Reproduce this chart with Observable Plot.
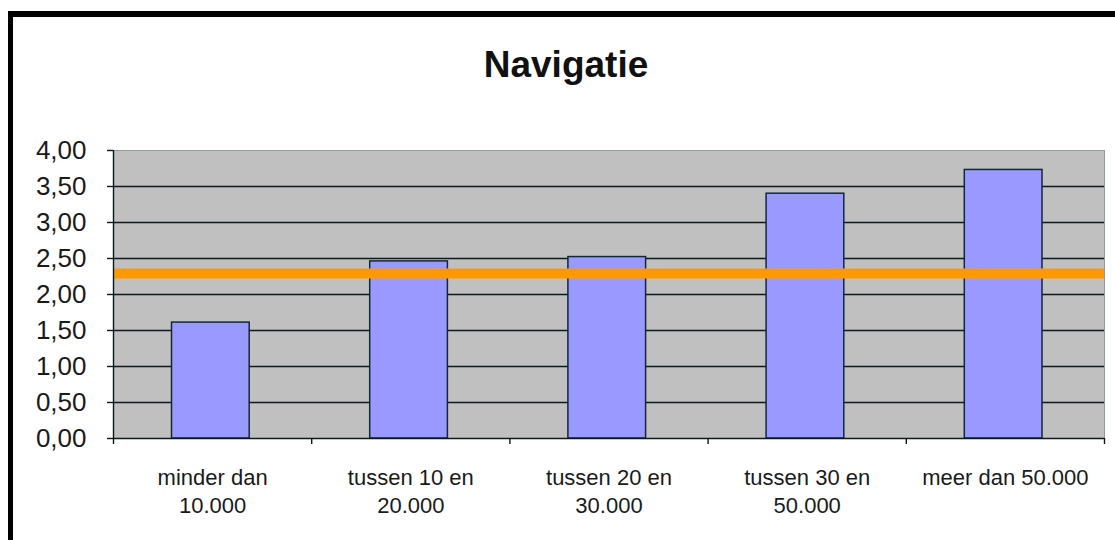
<!DOCTYPE html>
<html><head><meta charset="utf-8">
<script src="https://cdn.jsdelivr.net/npm/d3@7"></script>
<script src="https://cdn.jsdelivr.net/npm/@observablehq/plot@0.6"></script>
<style>
html,body{margin:0;padding:0;background:#fff;overflow:hidden;width:1115px;height:540px}
#wrap{position:relative;width:1115px;height:540px;overflow:hidden;font-family:"Liberation Sans",Arial,sans-serif}
#frame{position:absolute;left:8px;top:11px;width:2000px;height:2000px;border-left:5px solid #000;border-top:6px solid #000}
#title{position:absolute;top:46px;left:0;width:1132px;text-align:center;font-weight:bold;font-size:37px;line-height:37px;color:#111}
#chart{position:absolute;left:0;top:0}
</style></head>
<body><div id="wrap"><div id="frame"></div><div id="title"></div><div id="chart"></div></div>
<script>
const title = "Navigatie";
const categories = ["minder dan\n10.000", "tussen 10 en\n20.000", "tussen 20 en\n30.000", "tussen 30 en\n50.000", "meer dan 50.000"];
const values = [1.61, 2.46, 2.52, 3.40, 3.73];
const average = 2.29;
const yTicks = [0, 0.5, 1, 1.5, 2, 2.5, 3, 3.5, 4];

document.getElementById("title").textContent = title;

const data = categories.map((c, i) => ({category: c, index: i, value: values[i]}));
const boundaries = d3.range(0, categories.length + 1);

const plot = Plot.plot({
  width: 1115, height: 540,
  marginLeft: 113, marginRight: 11, marginTop: 150, marginBottom: 102,
  x: {type: "linear", domain: [0, categories.length], axis: null},
  y: {domain: [0, 4], axis: null},
  style: {fontFamily: "'Liberation Sans', Arial, sans-serif", background: "transparent", color: "#000"},
  marks: [
    Plot.frame({fill: "#c0c0c0", stroke: "#909a9a"}),
    Plot.gridY(yTicks.filter(v => v > 0 && v < 4), {stroke: "#0a1a1a", strokeOpacity: 1, strokeWidth: 1.4}),
    Plot.rectY(data, {x1: "index", x2: d => d.index + 1, y: "value", insetLeft: 58.5, insetRight: 62, fill: "#9999ff", stroke: "#10283a", strokeWidth: 1.5}),
    Plot.ruleY([average], {stroke: "#ff9900", strokeWidth: 10}),
    Plot.ruleX([0], {stroke: "#0a1a1a", strokeWidth: 1.4}),
    Plot.ruleY([0], {stroke: "#0a1a1a", strokeWidth: 1.4}),
    Plot.axisY({ticks: yTicks, label: null, tickFormat: d => d.toFixed(2).replace(".", ","), tickSize: 6, tickPadding: 21, fontSize: 26, fill: "#1a1a1a", stroke: "#0a1a1a", strokeWidth: 1.4}),
    Plot.axisX({ticks: boundaries, label: null, tickFormat: () => "", tickSize: 6, stroke: "#0a1a1a", strokeWidth: 1.4}),
    Plot.text(data, {x: d => d.index + 0.5, frameAnchor: "bottom", text: "category", lineAnchor: "top", dy: 27, fontSize: 22, lineHeight: 1.27, fill: "#1a1a1a"})
  ]
});
document.getElementById("chart").appendChild(plot);
</script>
</body></html>
